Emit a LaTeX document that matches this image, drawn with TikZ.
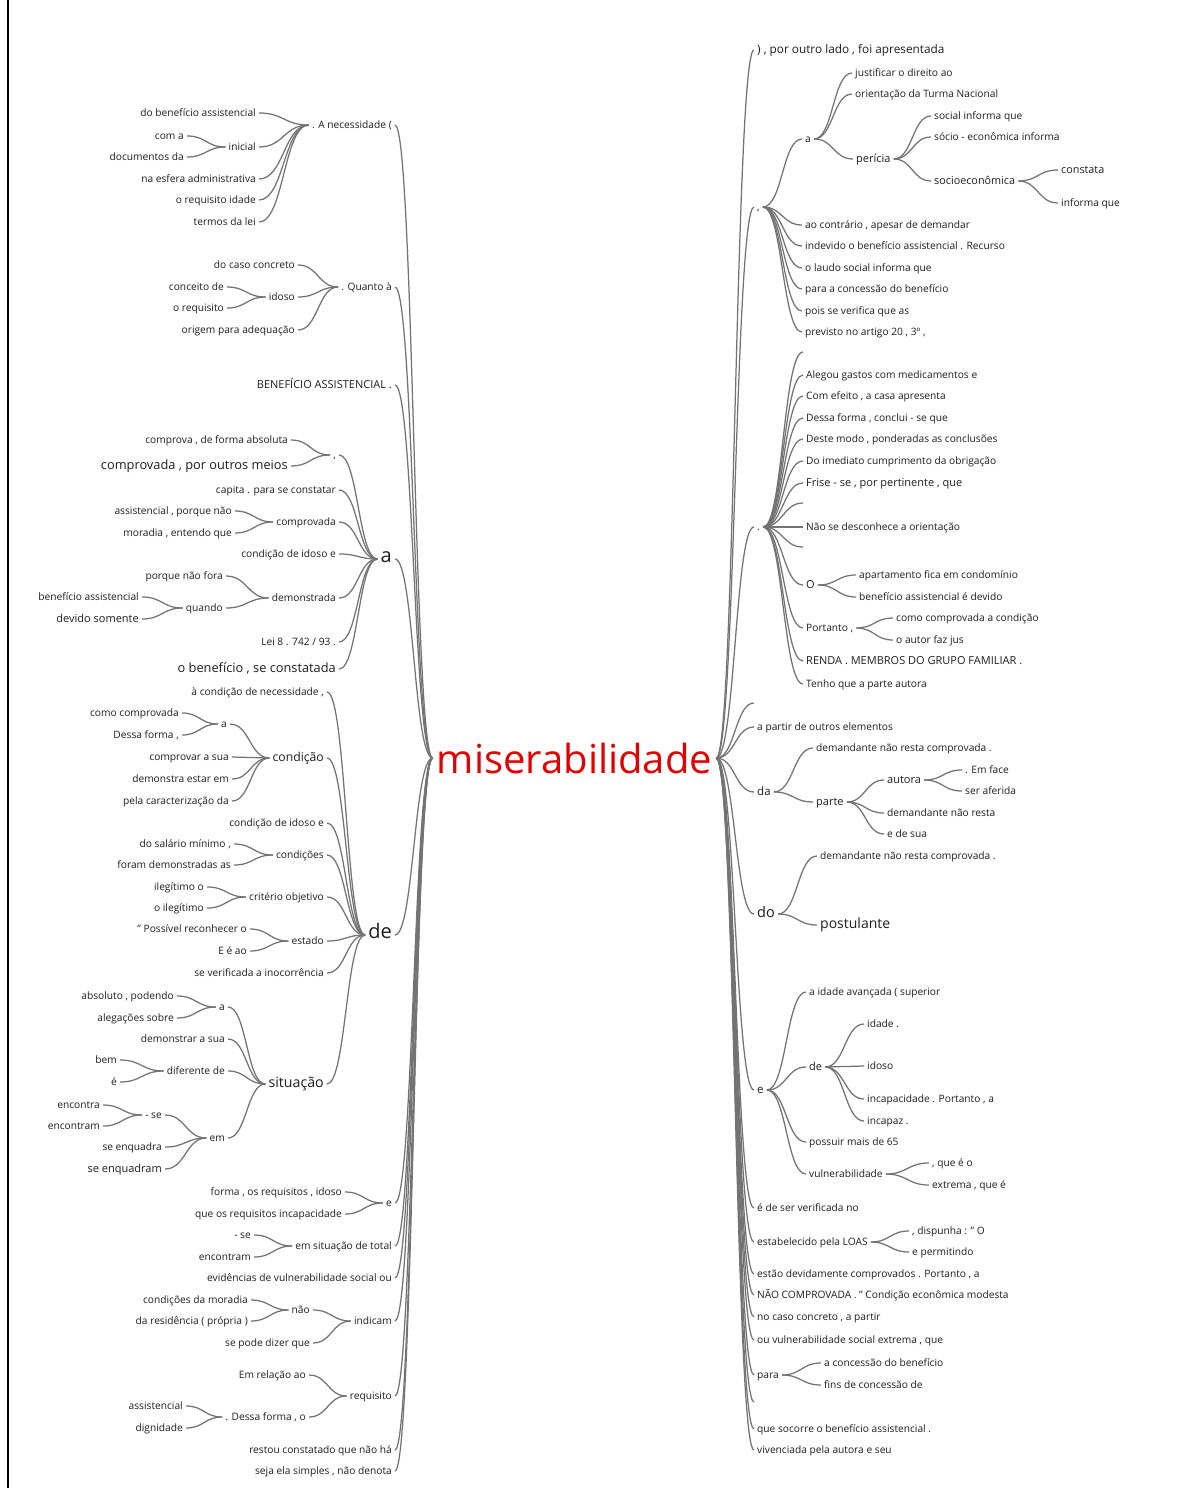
\documentclass[tikz,border=0pt]{standalone}
\usepackage{fontspec}
\setmainfont{Open Sans}
\usetikzlibrary{calc}
\definecolor{lnk}{RGB}{115,115,115}
\definecolor{txt}{RGB}{30,30,30}
\definecolor{mred}{RGB}{228,0,0}
\newcommand\fs[1]{\fontsize{#1}{#1}\selectfont}
\newcommand\conn[2]{\edef\cA{#1}\edef\cB{#2}\draw[link] let \p1=(\cA.east), \p2=(\cB.west), \n1={0.5*\x1+0.5*\x2} in (\p1) .. controls (\n1,\y1) and (\n1,\y2) .. (\p2);}
\tikzset{
  link/.style={draw=lnk, line width=1.25pt},
  base/.style={inner xsep=3pt, inner ysep=1pt, text=txt, font=\fs{10.2}, text height=1.45ex, text depth=0.3ex},
  W/.style={base, anchor=east},
  E/.style={base, anchor=west},
}
\begin{document}
\begin{tikzpicture}[x=1pt,y=-1pt]
\useasboundingbox (0,0) rectangle (1186,1488);
\fill[white] (0,0) rectangle (1186,1488);
\draw[black, line width=1.2pt] (8,0) -- (8,1488);

\node[inner xsep=4pt, inner ysep=1pt, text=mred, font=\fs{40}] (M) at (574.5,758) {miserabilidade};

% ---------------- LEFT top level
\node[W] (LA) at (395,125) {. A necessidade (};
\node[W] (LQ) at (395,287) {. Quanto à};
\node[W, font=\fs{11}] (LB) at (395,385) {BENEFÍCIO ASSISTENCIAL .};
\node[W, font=\fs{20}] (La) at (395,559) {a};
\node[W, font=\fs{20}] (Lde) at (395,935) {de};
\node[W] (Le) at (395,1203) {e};
\node[W] (Lest) at (395,1246) {em situação de total};
\node[W] (Lev) at (395,1278) {evidências de vulnerabilidade social ou};
\node[W] (Lind) at (395,1321) {indicam};
\node[W] (Lreq) at (395,1396) {requisito};
\node[W] (Lres) at (395,1450) {restou constatado que não há};
\node[W] (Lseja) at (395,1471) {seja ela simples , não denota};
\foreach \q in {LA,LQ,LB,La,Lde,Le,Lest,Lev,Lind,Lreq,Lres,Lseja} {\conn{\q}{M}}

% A necessidade
\node[W] (LA1) at (259,113) {do benefício assistencial};
\node[W] (LA2) at (259,147) {inicial};
\node[W] (LA3) at (259,179) {na esfera administrativa};
\node[W] (LA4) at (259,200) {o requisito idade};
\node[W] (LA5) at (259,222) {termos da lei};
\node[W] (LA2a) at (187,136) {com a};
\node[W] (LA2b) at (187,157) {documentos da};
\foreach \q in {LA1,LA2,LA3,LA4,LA5} {\conn{\q}{LA}}
\foreach \q in {LA2a,LA2b} {\conn{\q}{LA2}}

% Quanto a
\node[W] (LQ1) at (298,265) {do caso concreto};
\node[W] (LQ2) at (298,297) {idoso};
\node[W] (LQ3) at (298,330) {origem para adequação};
\node[W] (LQ2a) at (227,287) {conceito de};
\node[W] (LQ2b) at (227,308) {o requisito};
\foreach \q in {LQ1,LQ2,LQ3} {\conn{\q}{LQ}}
\foreach \q in {LQ2a,LQ2b} {\conn{\q}{LQ2}}

% a
\node[W] (La1) at (339,455) {,};
\node[W] (La1a) at (291,440) {comprova , de forma absoluta};
\node[W, font=\fs{12.8}] (La1b) at (291,466) {comprovada , por outros meios};
\node[W] (La2) at (339,490) {capita . para se constatar};
\node[W] (La3) at (339,522) {comprovada};
\node[W] (La3a) at (235,511) {assistencial , porque não};
\node[W] (La3b) at (235,533) {moradia , entendo que};
\node[W] (La4) at (339,554) {condição de idoso e};
\node[W] (La5) at (339,598) {demonstrada};
\node[W] (La5a) at (226,576) {porque não fora};
\node[W] (La5b) at (226,608) {quando};
\node[W] (La5b1) at (142,597) {benefício assistencial};
\node[W, font=\fs{11}] (La5b2) at (142,619) {devido somente};
\node[W] (La6) at (339,642) {Lei 8 . 742 / 93 .};
\node[W, font=\fs{12.8}] (La7) at (339,669) {o benefício , se constatada};
\foreach \q in {La1,La2,La3,La4,La5,La6,La7} {\conn{\q}{La}}
\foreach \q in {La1a,La1b} {\conn{\q}{La1}}
\foreach \q in {La3a,La3b} {\conn{\q}{La3}}
\foreach \q in {La5a,La5b} {\conn{\q}{La5}}
\foreach \q in {La5b1,La5b2} {\conn{\q}{La5b}}

% de
\node[W] (Ld1) at (327,692) {à condição de necessidade ,};
\node[W, font=\fs{12.2}] (Ld2) at (327,758) {condição};
\node[W] (Ld2a) at (230,724) {a};
\node[W] (Ld2a1) at (182,713) {como comprovada};
\node[W] (Ld2a2) at (182,735) {Dessa forma ,};
\node[W] (Ld2b) at (232,757) {comprovar a sua};
\node[W] (Ld2c) at (232,779) {demonstra estar em};
\node[W] (Ld2d) at (232,801) {pela caracterização da};
\node[W] (Ld3) at (327,823) {condição de idoso e};
\node[W] (Ld4) at (327,855) {condições};
\node[W] (Ld4a) at (234,844) {do salário mínimo ,};
\node[W] (Ld4b) at (234,865) {foram demonstradas as};
\node[W] (Ld5) at (327,897) {critério objetivo};
\node[W] (Ld5a) at (207,887) {ilegítimo o};
\node[W] (Ld5b) at (207,908) {o ilegítimo};
\node[W] (Ld6) at (327,941) {estado};
\node[W] (Ld6a) at (250,929) {" Possível reconhecer o};
\node[W] (Ld6b) at (250,951) {E é ao};
\node[W] (Ld7) at (327,973) {se verificada a inocorrência};
\node[W, font=\fs{14.2}] (Ld8) at (327,1084) {situação};
\foreach \q in {Ld1,Ld2,Ld3,Ld4,Ld5,Ld6,Ld7,Ld8} {\conn{\q}{Lde}}
\foreach \q in {Ld2a,Ld2b,Ld2c,Ld2d} {\conn{\q}{Ld2}}
\foreach \q in {Ld2a1,Ld2a2} {\conn{\q}{Ld2a}}
\foreach \q in {Ld4a,Ld4b} {\conn{\q}{Ld4}}
\foreach \q in {Ld5a,Ld5b} {\conn{\q}{Ld5}}
\foreach \q in {Ld6a,Ld6b} {\conn{\q}{Ld6}}

% situacao
\node[W] (Ls1) at (228,1007) {a};
\node[W] (Ls1a) at (177,996) {absoluto , podendo};
\node[W] (Ls1b) at (177,1018) {alegações sobre};
\node[W] (Ls2) at (228,1039) {demonstrar a sua};
\node[W] (Ls3) at (228,1071) {diferente de};
\node[W] (Ls3a) at (120,1060) {bem};
\node[W] (Ls3b) at (120,1082) {é};
\node[W] (Ls4) at (228,1138) {em};
\node[W] (Ls4a) at (165,1115) {- se};
\node[W] (Ls4a1) at (103,1105) {encontra};
\node[W] (Ls4a2) at (103,1126) {encontram};
\node[W] (Ls4b) at (165,1147) {se enquadra};
\node[W, font=\fs{11}] (Ls4c) at (165,1169) {se enquadram};
\foreach \q in {Ls1,Ls2,Ls3,Ls4} {\conn{\q}{Ld8}}
\foreach \q in {Ls1a,Ls1b} {\conn{\q}{Ls1}}
\foreach \q in {Ls3a,Ls3b} {\conn{\q}{Ls3}}
\foreach \q in {Ls4a,Ls4b,Ls4c} {\conn{\q}{Ls4}}
\foreach \q in {Ls4a1,Ls4a2} {\conn{\q}{Ls4a}}

% e, em situacao, indicam, requisito
\node[W] (Le1) at (345,1192) {forma , os requisitos , idoso};
\node[W] (Le2) at (345,1214) {que os requisitos incapacidade};
\foreach \q in {Le1,Le2} {\conn{\q}{Le}}
\node[W] (Lest1) at (254,1235) {- se};
\node[W] (Lest2) at (254,1257) {encontram};
\foreach \q in {Lest1,Lest2} {\conn{\q}{Lest}}
\node[W] (Lind1) at (313,1310) {não};
\node[W] (Lind1a) at (251,1300) {condições da moradia};
\node[W] (Lind1b) at (251,1321) {da residência ( própria )};
\node[W] (Lind2) at (313,1343) {se pode dizer que};
\foreach \q in {Lind1,Lind2} {\conn{\q}{Lind}}
\foreach \q in {Lind1a,Lind1b} {\conn{\q}{Lind1}}
\node[W] (Lreq1) at (309,1375) {Em relação ao};
\node[W] (Lreq2) at (309,1417) {. Dessa forma , o};
\node[W] (Lreq2a) at (186,1406) {assistencial};
\node[W] (Lreq2b) at (186,1428) {dignidade};
\foreach \q in {Lreq1,Lreq2} {\conn{\q}{Lreq}}
\foreach \q in {Lreq2a,Lreq2b} {\conn{\q}{Lreq2}}

% ---------------- RIGHT top level
\node[E, font=\fs{11.8}] (R1) at (754,50) {) , por outro lado , foi apresentada};
\node[E] (R2) at (754,207) {,};
\node[E] (R3) at (754,527) {.};
\node[E] (R4) at (754,703) {};
\node[E] (R5) at (754,727) {a partir de outros elementos};
\node[E, font=\fs{11.5}] (R6) at (754,792) {da};
\node[E, font=\fs{14.5}] (R7) at (754,914) {do};
\node[E, font=\fs{11.5}] (R8) at (754,1090) {e};
\node[E] (R9) at (754,1208) {é de ser verificada no};
\node[E] (R10) at (754,1242) {estabelecido pela LOAS};
\node[E] (R11) at (754,1274) {estão devidamente comprovados . Portanto , a};
\node[E] (R12) at (754,1295) {NÃO COMPROVADA . " Condição econômica modesta};
\node[E] (R13) at (754,1317) {no caso concreto , a partir};
\node[E] (R14) at (754,1340) {ou vulnerabilidade social extrema , que};
\node[E] (R15) at (754,1375) {para};
\node[E] (R16) at (754,1402) {};
\node[E] (R17) at (754,1429) {que socorre o benefício assistencial .};
\node[E] (R18) at (754,1450) {vivenciada pela autora e seu};
\foreach \q in {R1,R2,R3,R4,R5,R6,R7,R8,R9,R10,R11,R12,R13,R14,R15,R16,R17,R18} {\conn{M}{\q}}

% ,
\node[E] (R2a) at (802,139) {a};
\node[E] (R2a1) at (852,73) {justificar o direito ao};
\node[E] (R2a2) at (852,94) {orientação da Turma Nacional};
\node[E, font=\fs{11}] (R2a3) at (853,159) {perícia};
\node[E] (R2a3a) at (931,116) {social informa que};
\node[E] (R2a3b) at (931,137) {sócio - econômica informa};
\node[E, font=\fs{10.8}] (R2a3c) at (931,181) {socioeconômica};
\node[E, font=\fs{10.8}] (R2a3c1) at (1058,170) {constata};
\node[E] (R2a3c2) at (1058,203) {informa que};
\node[E] (R2b) at (802,225) {ao contrário , apesar de demandar};
\node[E] (R2c) at (802,246) {indevido o benefício assistencial . Recurso};
\node[E] (R2d) at (802,268) {o laudo social informa que};
\node[E] (R2e) at (802,289) {para a concessão do benefício};
\node[E] (R2f) at (802,311) {pois se verifica que as};
\node[E] (R2g) at (802,332) {previsto no artigo 20 , 3º ,};
\foreach \q in {R2a,R2b,R2c,R2d,R2e,R2f,R2g} {\conn{R2}{\q}}
\foreach \q in {R2a1,R2a2,R2a3} {\conn{R2a}{\q}}
\foreach \q in {R2a3a,R2a3b,R2a3c} {\conn{R2a3}{\q}}
\foreach \q in {R2a3c1,R2a3c2} {\conn{R2a3c}{\q}}

% .
\node[E] (R3a) at (803,352) {};
\node[E] (R3b) at (803,375) {Alegou gastos com medicamentos e};
\node[E] (R3c) at (803,396) {Com efeito , a casa apresenta};
\node[E] (R3d) at (803,418) {Dessa forma , conclui - se que};
\node[E] (R3e) at (803,439) {Deste modo , ponderadas as conclusões};
\node[E] (R3f) at (803,461) {Do imediato cumprimento da obrigação};
\node[E, font=\fs{11}] (R3g) at (803,483) {Frise - se , por pertinente , que};
\node[E] (R3h) at (803,503) {};
\node[E] (R3i) at (803,527) {Não se desconhece a orientação};
\node[E] (R3j) at (803,547) {};
\node[E, font=\fs{11}] (R3k) at (803,585) {O};
\node[E] (R3k1) at (856,575) {apartamento fica em condomínio};
\node[E] (R3k2) at (856,597) {benefício assistencial é devido};
\node[E] (R3l) at (803,628) {Portanto ,};
\node[E] (R3l1) at (893,618) {como comprovada a condição};
\node[E] (R3l2) at (893,640) {o autor faz jus};
\node[E, font=\fs{11}] (R3m) at (803,661) {RENDA . MEMBROS DO GRUPO FAMILIAR .};
\node[E] (R3n) at (803,684) {Tenho que a parte autora};
\foreach \q in {R3a,R3b,R3c,R3d,R3e,R3f,R3g,R3h,R3i,R3j,R3k,R3l,R3m,R3n} {\conn{R3}{\q}}
\foreach \q in {R3k1,R3k2} {\conn{R3k}{\q}}
\foreach \q in {R3l1,R3l2} {\conn{R3l}{\q}}

% da
\node[E] (R6a) at (813,748) {demandante não resta comprovada .};
\node[E, font=\fs{11}] (R6b) at (813,802) {parte};
\node[E, font=\fs{11}] (R6b1) at (884,780) {autora};
\node[E] (R6b1a) at (962,770) {. Em face};
\node[E] (R6b1b) at (962,791) {ser aferida};
\node[E] (R6b2) at (884,813) {demandante não resta};
\node[E] (R6b3) at (884,834) {e de sua};
\foreach \q in {R6a,R6b} {\conn{R6}{\q}}
\foreach \q in {R6b1,R6b2,R6b3} {\conn{R6b}{\q}}
\foreach \q in {R6b1a,R6b1b} {\conn{R6b1}{\q}}

% do
\node[E] (R7a) at (817,856) {demandante não resta comprovada .};
\node[E, font=\fs{14}] (R7b) at (817,925) {postulante};
\foreach \q in {R7a,R7b} {\conn{R7}{\q}}

% e
\node[E] (R8a) at (806,992) {a idade avançada ( superior};
\node[E, font=\fs{11}] (R8b) at (806,1067) {de};
\node[E] (R8b1) at (864,1024) {idade .};
\node[E] (R8b2) at (864,1066) {idoso};
\node[E] (R8b3) at (864,1099) {incapacidade . Portanto , a};
\node[E] (R8b4) at (864,1121) {incapaz .};
\node[E] (R8c) at (806,1142) {possuir mais de 65};
\node[E] (R8d) at (806,1174) {vulnerabilidade};
\node[E] (R8d1) at (929,1163) {, que é o};
\node[E] (R8d2) at (929,1185) {extrema , que é};
\foreach \q in {R8a,R8b,R8c,R8d} {\conn{R8}{\q}}
\foreach \q in {R8b1,R8b2,R8b3,R8b4} {\conn{R8b}{\q}}
\foreach \q in {R8d1,R8d2} {\conn{R8d}{\q}}

% LOAS, para
\node[E] (R10a) at (909,1231) {, dispunha : " O};
\node[E] (R10b) at (909,1252) {e permitindo};
\foreach \q in {R10a,R10b} {\conn{R10}{\q}}
\node[E] (R15a) at (821,1363) {a concessão do benefício};
\node[E] (R15b) at (821,1385) {fins de concessão de};
\foreach \q in {R15a,R15b} {\conn{R15}{\q}}
\end{tikzpicture}
\end{document}
